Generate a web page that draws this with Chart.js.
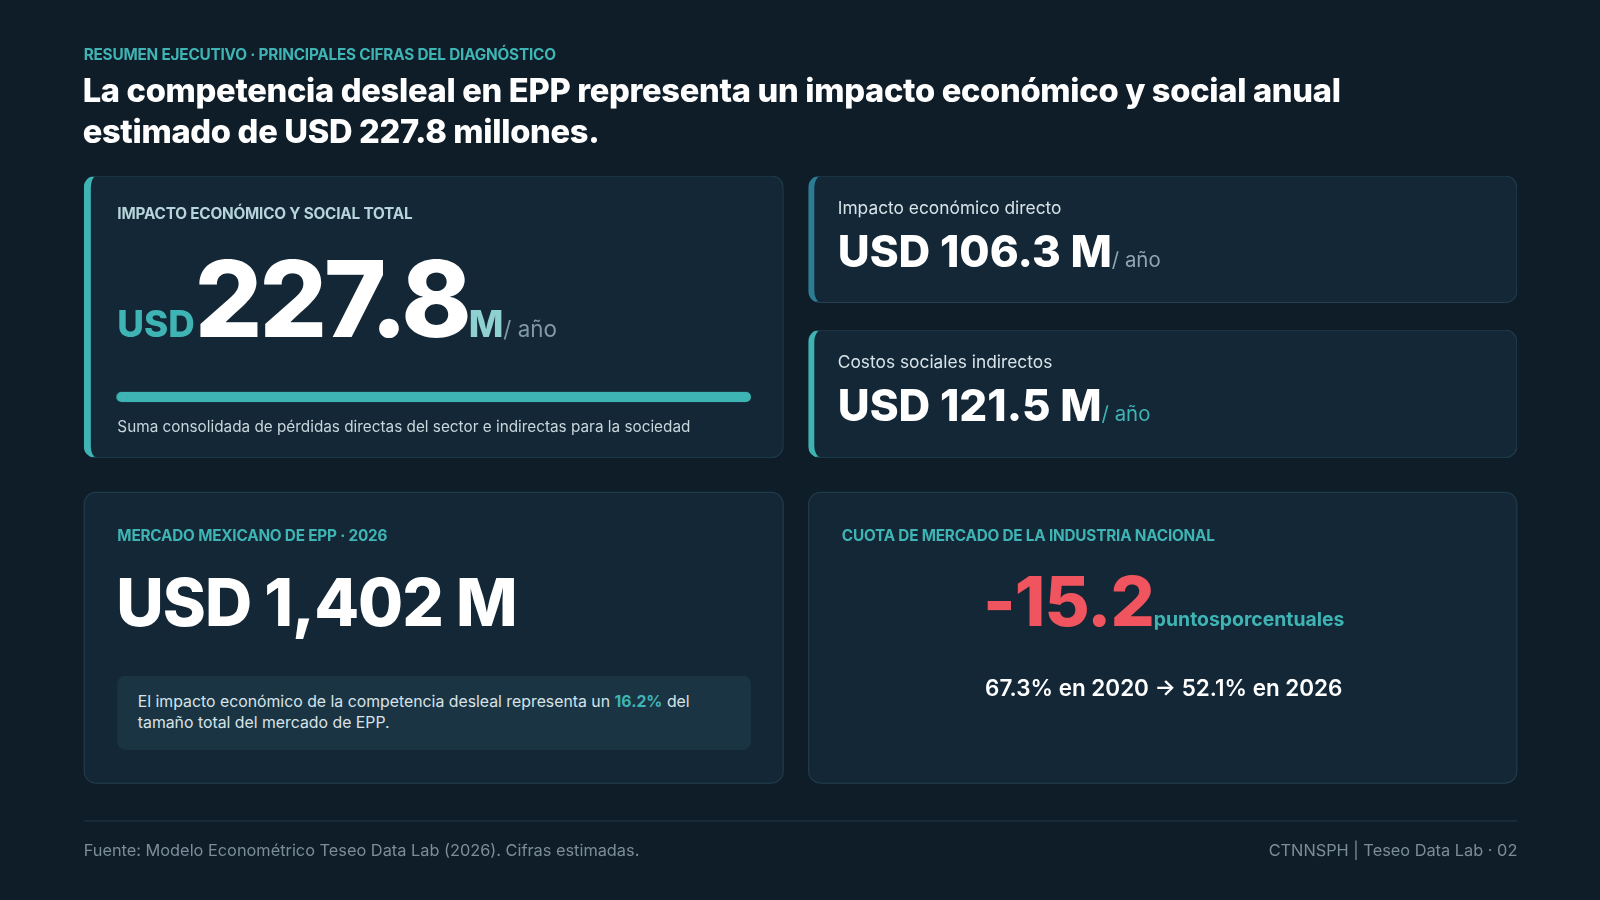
<!DOCTYPE html>
<html><head><meta charset="utf-8">
<script src="https://cdn.jsdelivr.net/npm/chart.js@4"></script>
<style>
*{box-sizing:border-box;margin:0;padding:0}
body{width:1600px;height:900px;background:#0f1d29;font-family:Inter,Lato,sans-serif;color:#fff;overflow:hidden}
#wrap{position:relative;width:1568px;height:882px;transform:scale(1.020408);transform-origin:0 0}
.abs{position:absolute}
.card{position:absolute;background:#132736;border:1px solid #23404f;border-radius:12px}
.teal{color:#3fb4b4}
.lab{font-size:15px;font-weight:700;letter-spacing:-0.2px}
</style></head><body>
<script>
const categories=["Impacto económico directo","Costos sociales indirectos"];
const values=[106.3,121.5];
const total=[227.8];
const market=[1402];
const sharePct=[16.2];
const shareYears=["2020","2026"];
const shareVals=[67.3,52.1];
</script>
<div id="wrap">
<div class="abs teal lab" style="left:82px;top:44px">RESUMEN EJECUTIVO · PRINCIPALES CIFRAS DEL DIAGNÓSTICO</div>
<div class="abs" style="left:81px;top:69px;font-size:32px;font-weight:800;line-height:40px;width:1340px;letter-spacing:-0.3px">La competencia desleal en EPP representa un impacto económico y social anual estimado de USD 227.8 millones.</div>

<div class="card" style="left:82px;top:172px;width:686px;height:277px;border-left:7px solid #3fb4b4">
 <div class="abs lab" style="left:26px;top:27px;color:#b7d4da">IMPACTO ECONÓMICO Y SOCIAL TOTAL</div>
 <div class="abs" style="left:26px;top:56px;white-space:nowrap"><span class="teal" style="font-size:36px;font-weight:800">USD</span><span style="font-size:104px;font-weight:800;letter-spacing:-3px" id="tot"></span><span style="font-size:36px;font-weight:800;color:#8fd0d0">M</span><span style="font-size:22px;color:#7f98a4">/ año</span></div>
 <div class="abs" style="left:25px;top:209px;width:622px;height:14px"><canvas id="bar"></canvas></div>
 <div class="abs" style="left:26px;top:235px;font-size:15px;color:#c9d6dc">Suma consolidada de pérdidas directas del sector e indirectas para la sociedad</div>
</div>

<div class="card" style="left:792px;top:172px;width:695px;height:125px;border-left:6px solid #2d7c94">
 <div class="abs" style="left:23px;top:21px;font-size:17px;color:#d8e3e8">Impacto económico directo</div>
 <div class="abs" style="left:23px;top:47px;white-space:nowrap"><span style="font-size:43px;font-weight:800" id="v0"></span><span style="font-size:20px;color:#8fa6b0">/ año</span></div>
</div>
<div class="card" style="left:792px;top:323px;width:695px;height:126px;border-left:6px solid #3fb4b4">
 <div class="abs" style="left:23px;top:21px;font-size:17px;color:#d8e3e8">Costos sociales indirectos</div>
 <div class="abs" style="left:23px;top:47px;white-space:nowrap"><span style="font-size:43px;font-weight:800" id="v1"></span><span class="teal" style="font-size:20px">/ año</span></div>
</div>

<div class="card" style="left:82px;top:482px;width:686px;height:286px">
 <div class="abs teal lab" style="left:32px;top:32px">MERCADO MEXICANO DE EPP · 2026</div>
 <div class="abs" style="left:31px;top:68px;font-size:64px;font-weight:800;letter-spacing:-1px" id="mk"></div>
 <div class="abs" style="left:32px;top:179px;width:621px;height:73px;background:#1a3444;border-radius:8px;padding:16px 20px;font-size:15.5px;line-height:20px;color:#d8e3e8" id="note"></div>
</div>

<div class="card" style="left:792px;top:482px;width:695px;height:286px">
 <div class="abs teal lab" style="left:32px;top:32px">CUOTA DE MERCADO DE LA INDUSTRIA NACIONAL</div>
 <div class="abs" style="left:0;width:695px;top:64px;text-align:center;white-space:nowrap"><span style="font-size:68px;font-weight:800;color:#f0545e;letter-spacing:-1px" id="pp"></span><span class="teal" style="font-size:19px;font-weight:700">puntosporcentuales</span></div>
 <div class="abs" style="left:0;width:695px;top:178px;text-align:center;font-size:22px;font-weight:600" id="yrs"></div>
</div>

<div class="abs" style="left:82px;top:804px;width:1405px;height:1px;background:#23384a"></div>
<div class="abs" style="left:82px;top:823px;font-size:16px;color:#7d8d98">Fuente: Modelo Econométrico Teseo Data Lab (2026). Cifras estimadas.</div>
<div class="abs" style="right:81px;top:823px;font-size:16px;color:#7d8d98">CTNNSPH | Teseo Data Lab · 02</div>
</div>
<script>
document.getElementById('tot').textContent=total[0].toFixed(1);
document.getElementById('v0').textContent='USD '+values[0].toFixed(1)+' M';
document.getElementById('v1').textContent='USD '+values[1].toFixed(1)+' M';
document.getElementById('mk').textContent='USD '+market[0].toLocaleString('en-US')+' M';
document.getElementById('note').innerHTML='El impacto económico de la competencia desleal representa un <span class="teal" style="font-weight:700">'+sharePct[0]+'%</span> del tamaño total del mercado de EPP.';
document.getElementById('pp').textContent='-'+(shareVals[0]-shareVals[1]).toFixed(1);
document.getElementById('yrs').textContent=shareVals[0]+'% en '+shareYears[0]+' → '+shareVals[1]+'% en '+shareYears[1];
new Chart(document.getElementById('bar'),{type:'bar',
 data:{labels:['Total'],datasets:[{data:total,backgroundColor:'#3fb4b4',borderRadius:6,borderSkipped:false,barPercentage:1,categoryPercentage:0.7}]},
 options:{indexAxis:'y',responsive:true,maintainAspectRatio:false,animation:false,
  layout:{padding:0},
  plugins:{legend:{display:false},tooltip:{enabled:false}},
  scales:{x:{display:false,min:0,max:total[0]},y:{display:false}}}});
</script>
</body></html>
